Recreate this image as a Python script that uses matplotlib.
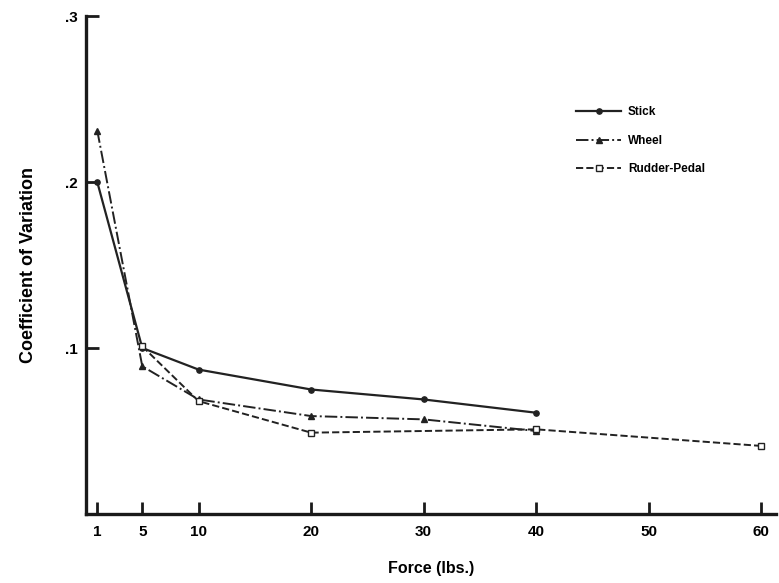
import matplotlib
matplotlib.use("Agg")
import matplotlib.pyplot as plt

plt.rcParams['font.family'] = ['Liberation Sans', 'DejaVu Sans']
plt.rcParams['font.weight'] = 'bold'

stick_x = [1, 5, 10, 20, 30, 40]
stick_y = [0.200, 0.100, 0.087, 0.075, 0.069, 0.061]

wheel_x = [1, 5, 10, 20, 30, 40]
wheel_y = [0.231, 0.089, 0.069, 0.059, 0.057, 0.050]

rudder_x = [5, 10, 20, 40, 60]
rudder_y = [0.101, 0.068, 0.049, 0.051, 0.041]

x_ticks = [1, 5, 10, 20, 30, 40, 50, 60]
y_ticks = [0.1, 0.2, 0.3]
y_tick_labels = ['.1', '.2', '.3']

fig = plt.figure(figsize=(7.79, 5.83), dpi=100)
ax = fig.add_axes([86/779, 1-514/583, (776-86)/779, (514-16)/583])

ax.plot(stick_x, stick_y, '-', color='#222222', lw=1.6, marker='o', ms=3.8, label='Stick')
ax.plot(wheel_x, wheel_y, '-.', color='#222222', lw=1.4, marker='^', ms=4, label='Wheel')
ax.plot(rudder_x, rudder_y, '--', color='#222222', lw=1.4, marker='s', ms=5,
        mfc='white', mew=1.0, label='Rudder-Pedal')

ax.set_xlim(0, 61.3)
ax.set_ylim(0, 0.3)
ax.spines['top'].set_visible(False)
ax.spines['right'].set_visible(False)
for s in ('left', 'bottom'):
    ax.spines[s].set_linewidth(2.4)
    ax.spines[s].set_color('#1a1a1a')

ax.set_xticks(x_ticks)
ax.set_xticklabels([str(v) for v in x_ticks], fontsize=11, fontweight='bold')
ax.set_yticks(y_ticks)
ax.set_yticklabels(y_tick_labels, fontsize=11, fontweight='bold')
ax.tick_params(axis='both', direction='in', length=9, width=2, color='#1a1a1a', pad=8)
ax.tick_params(axis='y', pad=6)

ax.set_xlabel('Force (lbs.)', fontsize=11.5, fontweight='bold', labelpad=16)
ax.set_ylabel('Coefficient of Variation', fontsize=13, fontweight='bold', labelpad=20)

leg = ax.legend(loc='upper left', bbox_to_anchor=(0.695, 0.84), frameon=False,
                fontsize=8.5, handlelength=3.8, labelspacing=1.4, handletextpad=0.6)
for t in leg.get_texts():
    t.set_fontweight('bold')

fig.savefig('out.png', dpi=100, facecolor='white')
